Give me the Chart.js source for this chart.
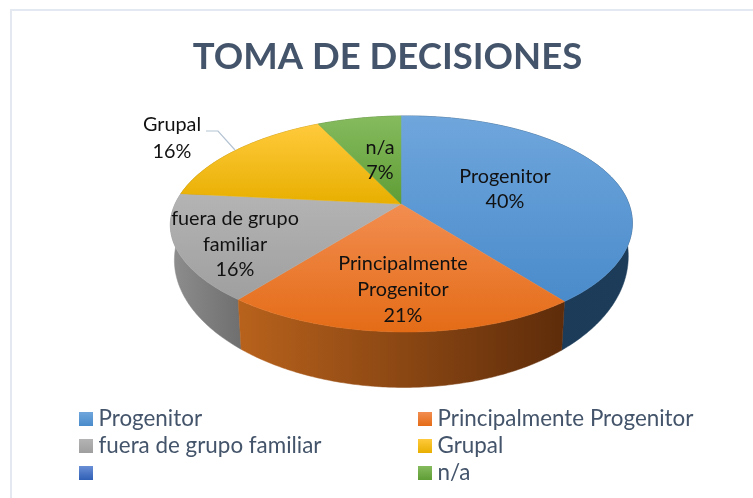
<!DOCTYPE html>
<html><head><meta charset="utf-8">
<style>html,body{margin:0;padding:0;background:#fff;overflow:hidden}canvas{display:block}</style>
<script src="https://cdn.jsdelivr.net/npm/chart.js@4/dist/chart.umd.min.js"></script>
</head><body><canvas id="c" width="753" height="498"></canvas>
<script>
const titleText = 'TOMA DE DECISIONES';
const categories = ['Progenitor','Principalmente Progenitor','fuera de grupo familiar','Grupal','','n/a'];
const values = [40,21,16,16,0,7];
const labelLines = [['Progenitor'],['Principalmente','Progenitor'],['fuera de grupo','familiar'],['Grupal'],[],['n/a']];
const topTop = ['#6fa6dc','#f28d50','#b4b4b4','#ffca3c','#6a8fd6','#85bb5e'];
const topBottom = ['#4a8bcb','#e46c17','#9f9f9f','#e8af00','#2f5fb5','#5f9d35'];
const sideLeft = ['#1a3a58','#b8621c','#8e8e8e','#a07800','#1f3f78','#3e6a24'];
const sideRight = ['#1c3c5a','#5e2c0a','#707070','#a07800','#1f3f78','#3e6a24'];
const labelCenters = [[505,177,25],[403,264,26],[235,219,25.5],[172,125,27],null,[380,148,25]];
const legendSlots = [[79,419],[418,419],[79,446],[418,446],[79,473],[418,473]];

const persp = {cx:401, cy:204, bx:227, ay:104.3, k:0.185, sh:10, tilt:2.5};
const base = {cx:401, cy:234, bx:223, ay:125, k:0.185, sh:10, tilt:4};
const project = (p,a) => {
  const u = Math.cos(a), v = Math.sin(a), d = 1 - p.k * v, f = Math.max(v,0);
  return [p.cx + p.bx * u / d + p.sh * f * f, p.cy + p.ay * v / d - p.tilt * u / d];
};

const pie3d = {
  id:'pie3d',
  beforeDraw(chart){
    const c = chart.ctx;
    c.save();
    c.fillStyle = '#fff'; c.fillRect(0,0,753,498);
    c.strokeStyle = '#e4e8f0'; c.lineWidth = 2;
    c.beginPath(); c.moveTo(11,498); c.lineTo(11,10); c.lineTo(753,10); c.stroke();
    c.restore();
  },
  afterDatasetsDraw(chart){
    const c = chart.ctx, arcs = chart.getDatasetMeta(0).data;
    c.save();
    // side wall: one polygon per slice, back slices first
    const walls = [];
    arcs.forEach((el,i)=>{
      if (!values[i]) return;
      const s = el.startAngle, e = el.endAngle, n = Math.ceil((e-s)*90);
      const hi = [], lo = [];
      for (let j=0;j<=n;j++){ const a = s+(e-s)*j/n; hi.push(project(persp,a)); lo.push(project(base,a)); }
      const xs = hi.map(p=>p[0]);
      const g = c.createLinearGradient(Math.min(...xs),0,Math.max(...xs),0);
      g.addColorStop(0,sideLeft[i]); g.addColorStop(1,sideRight[i]);
      const z = Math.max(...hi.map(p=>p[1]));
      walls.push({z,g,pts:hi.concat(lo.reverse())});
    });
    walls.sort((a,b)=>a.z-b.z).forEach(w=>{
      c.fillStyle = w.g; c.strokeStyle = w.g; c.lineWidth = .5;
      c.beginPath(); w.pts.forEach((p,i)=> i?c.lineTo(p[0],p[1]):c.moveTo(p[0],p[1])); c.closePath(); c.fill(); c.stroke();
    });
    // top face
    arcs.forEach((el,i)=>{
      if (!values[i]) return;
      const s = el.startAngle, e = el.endAngle, n = Math.ceil((e-s)*90);
      const pts = [[persp.cx,persp.cy]];
      for (let j=0;j<=n;j++) pts.push(project(persp, s+(e-s)*j/n));
      let minY = Infinity, maxY = -Infinity;
      pts.forEach(p=>{minY=Math.min(minY,p[1]);maxY=Math.max(maxY,p[1]);});
      const g = c.createLinearGradient(0,minY,0,maxY);
      g.addColorStop(0,topTop[i]); g.addColorStop(1,topBottom[i]);
      c.fillStyle = g; c.strokeStyle = g; c.lineWidth = .5;
      c.beginPath(); pts.forEach((p,k)=> k?c.lineTo(p[0],p[1]):c.moveTo(p[0],p[1])); c.closePath(); c.fill(); c.stroke();
    });
    // leader line
    c.strokeStyle = '#b4c3d3'; c.lineWidth = 1.2;
    c.beginPath(); c.moveTo(206,131); c.lineTo(218,131); c.lineTo(235,150); c.stroke();
    // data labels
    c.fillStyle = '#111'; c.textAlign = 'center'; c.textBaseline = 'middle';
    c.font = '19.8px Lato';
    categories.forEach((_,i)=>{
      const lc = labelCenters[i]; if (!lc) return;
      const lines = labelLines[i].concat([values[i]+'%']);
      lines.forEach((t,k)=> c.fillText(t, lc[0], lc[1]+k*lc[2]));
    });
    // legend
    c.textAlign = 'left';
    c.font = '22.4px Lato';
    categories.forEach((t,i)=>{
      const [x,y] = legendSlots[i];
      const g = c.createLinearGradient(0,y-7,0,y+7);
      g.addColorStop(0,topTop[i]); g.addColorStop(1,topBottom[i]);
      c.fillStyle = g; c.fillRect(x,y-7,14,14);
      c.fillStyle = '#44546a';
      c.fillText(t, x+19.5, y);
    });
    c.restore();
  }
};

new Chart(document.getElementById('c'),{
  type:'pie',
  data:{labels:categories,datasets:[{data:values,backgroundColor:'rgba(0,0,0,0)',borderWidth:0}]},
  options:{
    responsive:false,animation:false,
    layout:{padding:{left:22,top:35}},
    plugins:{
      legend:{display:false},tooltip:{enabled:false},
      title:{display:true,text:titleText,color:'#44546a',font:{family:'Lato',size:36.5,weight:'bold'},padding:{top:0,bottom:0}}
    }
  },
  plugins:[pie3d]
});
</script></body></html>
